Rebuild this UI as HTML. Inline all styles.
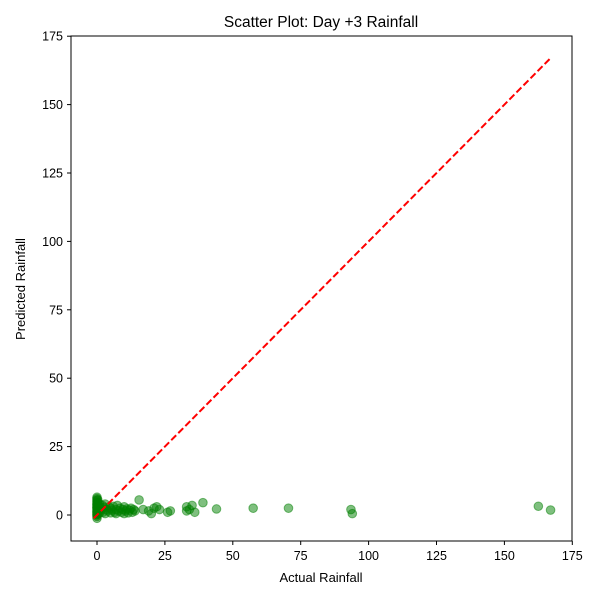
<!DOCTYPE html>
<html><head><meta charset="utf-8"><style>body{margin:0;background:#fff}svg text{font-family:"Liberation Sans","DejaVu Sans",sans-serif}</style></head>
<body>
<svg id="chart" width="600" height="600" xmlns="http://www.w3.org/2000/svg">
<rect width="600" height="600" fill="#fff"/>
<text x="321" y="27" font-size="15.5" text-anchor="middle">Scatter Plot: Day +3 Rainfall</text>
<text x="321" y="582" font-size="13" text-anchor="middle">Actual Rainfall</text>
<text x="25" y="289" font-size="13" text-anchor="middle" transform="rotate(-90 25 289)">Predicted Rainfall</text>
<g id="ticks"></g><g id="points"></g><g id="line"></g>
<rect x="71" y="36" width="501" height="505" fill="none" stroke="#000" stroke-width="1"/>
</svg>
<script>
const xTicks=[0,25,50,75,100,125,150,175];
const yTicks=[0,25,50,75,100,125,150,175];
const actual=[0,0,0,0,0,0,0,0,0,0,0,0,0,0,0,0,0,0,0,0,0.2,0.2,0.3,0.3,0.4,0.5,0.5,0.6,0.8,1,1,1.2,1.5,1.8,2,2.2,2.5,3,3,3.5,4,4.5,5,5,5.5,6,6.5,7,7,7.5,8,8.5,9,9.5,10,10,10.5,11,11.5,12,12.5,13,13.5,14,15.5,17,19,20,21,22,23,26,27,33,33,34,35,36,39,44,57.5,70.5,93.5,94,162.5,167];
const predicted=[-1.2,-0.5,0,0.5,1,1.5,2,2.5,3,3.5,4,4.5,5,5.5,6,6.5,1.2,2.8,3.8,0.2,1,4.5,2,5.5,3,0.5,3.5,1.5,2.5,4,0.8,3,1.8,2.2,3.5,1,2.8,0.5,4,2,1.5,3,0.8,2.5,1.8,3.2,1,2,0.5,3.5,1.5,2.5,1,2,0.5,3,1.5,2.2,0.8,1.8,2.5,1,2,1.5,5.5,2,1.5,0.5,2.5,3,2,1,1.5,1.5,3,2,3.5,1,4.5,2.2,2.5,2.5,2,0.5,3.2,1.8];
const X0=97,XS=67.9/25,Y0=515,YS=68.4/25;
const sx=v=>X0+v*XS, sy=v=>Y0-v*YS;
const NS="http://www.w3.org/2000/svg";
const tg=document.getElementById('ticks');
xTicks.forEach(t=>{
 const l=document.createElementNS(NS,'line');
 
 
 l.setAttribute('x1',sx(t));l.setAttribute('x2',sx(t));l.setAttribute('y1',541);l.setAttribute('y2',545);l.setAttribute('stroke','#000');tg.appendChild(l);
 const s=document.createElementNS(NS,'text');
 
 
 s.setAttribute('x',sx(t));s.setAttribute('y',560);s.setAttribute('font-size','12.5');s.setAttribute('text-anchor','middle');s.textContent=t;tg.appendChild(s);
});
yTicks.forEach(t=>{
 const l=document.createElementNS(NS,'line');
 
 
 l.setAttribute('x1',67);l.setAttribute('x2',71);l.setAttribute('y1',sy(t));l.setAttribute('y2',sy(t));l.setAttribute('stroke','#000');tg.appendChild(l);
 const s=document.createElementNS(NS,'text');
 
 
 s.setAttribute('x',63);s.setAttribute('y',sy(t)+4.5);s.setAttribute('font-size','12.5');s.setAttribute('text-anchor','end');s.textContent=t;tg.appendChild(s);
});
const pg=document.getElementById('points');
actual.forEach((a,i)=>{
 const c=document.createElementNS(NS,'circle');
 
 
 c.setAttribute('cx',sx(a));c.setAttribute('cy',sy(predicted[i]));c.setAttribute('r',4.3);
 c.setAttribute('fill','green');c.setAttribute('fill-opacity','0.5');c.setAttribute('stroke','green');c.setAttribute('stroke-opacity','0.5');c.setAttribute('stroke-width','1');
 pg.appendChild(c);
});
const mn=Math.min(...actual,...predicted), mx=Math.max(...actual,...predicted);
const ln=document.createElementNS(NS,'line');


ln.setAttribute('x1',sx(mn));ln.setAttribute('y1',sy(mn));ln.setAttribute('x2',sx(mx));ln.setAttribute('y2',sy(mx));
ln.setAttribute('stroke','red');ln.setAttribute('stroke-width','2');ln.setAttribute('stroke-dasharray','7,3');
document.getElementById('line').appendChild(ln);
</script>
</body></html>
